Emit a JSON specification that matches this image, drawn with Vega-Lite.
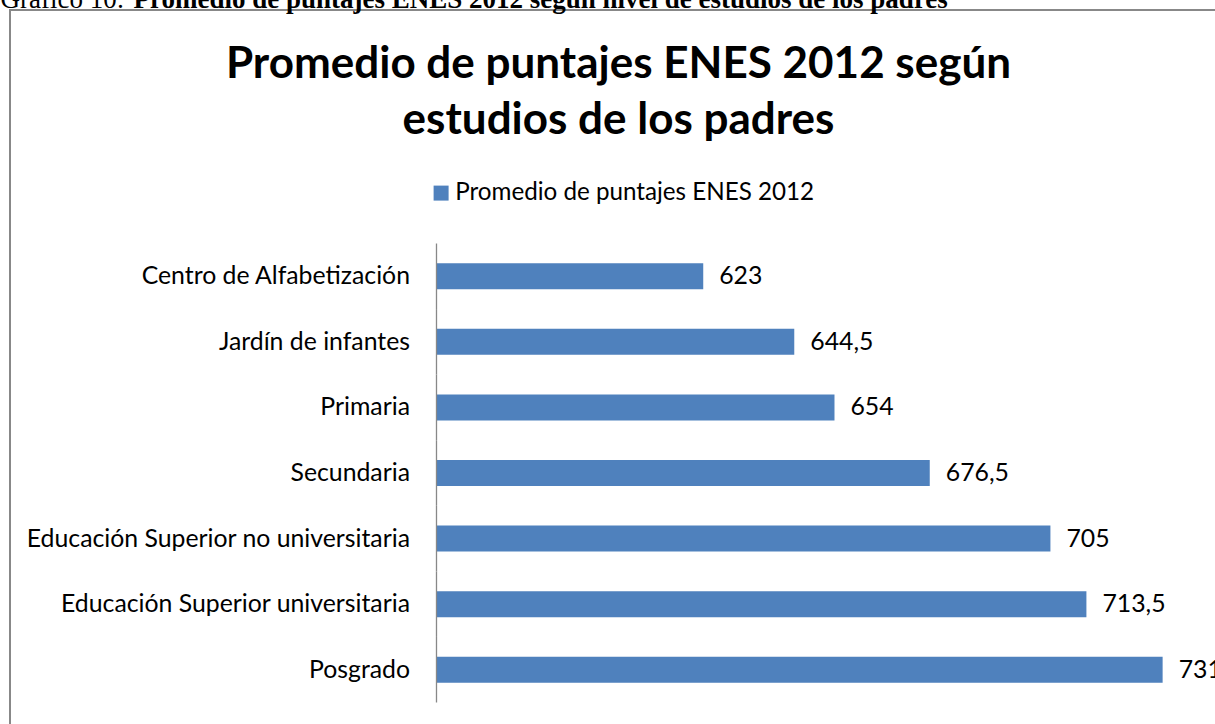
{
  "$schema": "https://vega.github.io/schema/vega-lite/v6.json",
  "autosize": {"type": "none"},
  "padding": {"left": 10, "top": 10, "right": 0, "bottom": 0},
  "width": 1205,
  "height": 714,
  "background": "white",
  "config": {"view": {"stroke": "#888888", "strokeWidth": 2, "strokeDash": [1205, 1919, 714]}},
  "resolve": {"axis": {"x": "independent", "y": "independent"}},
  "data": {
    "values": [
      {"nivel": "Centro de Alfabetización", "puntaje": 623, "etiqueta": "623", "serie": "Promedio de puntajes ENES 2012"},
      {"nivel": "Jardín de infantes", "puntaje": 644.5, "etiqueta": "644,5", "serie": "Promedio de puntajes ENES 2012"},
      {"nivel": "Primaria", "puntaje": 654, "etiqueta": "654", "serie": "Promedio de puntajes ENES 2012"},
      {"nivel": "Secundaria", "puntaje": 676.5, "etiqueta": "676,5", "serie": "Promedio de puntajes ENES 2012"},
      {"nivel": "Educación Superior no universitaria", "puntaje": 705, "etiqueta": "705", "serie": "Promedio de puntajes ENES 2012"},
      {"nivel": "Educación Superior universitaria", "puntaje": 713.5, "etiqueta": "713,5", "serie": "Promedio de puntajes ENES 2012"},
      {"nivel": "Posgrado", "puntaje": 731.5, "etiqueta": "731,5", "serie": "Promedio de puntajes ENES 2012"}
    ]
  },
  "layer": [
    {
      "mark": {"type": "bar", "color": "#4F81BD"},
      "encoding": {
        "y": {
          "field": "nivel", "type": "nominal", "sort": null,
          "scale": {"range": [233.5, 692.5], "paddingInner": 0.6035, "paddingOuter": 0.30175, "align": 0.5},
          "axis": {
            "orient": "left", "domain": false, "ticks": false, "labels": false, "grid": false,
            "title": ["Promedio de puntajes ENES 2012 según", "estudios de los padres"],
            "titleFont": "Lato", "titleFontSize": 44, "titleFontWeight": "bold", "titleColor": "black",
            "titleAngle": 0, "titleX": 608, "titleY": 67, "titleAlign": "center",
            "titleBaseline": "alphabetic", "titleLineHeight": 56, "titleLimit": 2000
          }
        },
        "x": {
          "field": "puntaje", "type": "quantitative",
          "scale": {"domain": [459.27, 743.87], "nice": false, "zero": false},
          "axis": {
            "orient": "top", "domain": false, "ticks": false, "labels": false, "grid": false,
            "title": "Promedio de puntajes ENES 2012 según nivel de estudios de los padres",
            "titleFont": "Liberation Serif", "titleFontSize": 27, "titleFontWeight": "bold", "titleColor": "black",
            "titleX": 123, "titleY": -3, "titleAlign": "left", "titleBaseline": "alphabetic", "titleLimit": 2000
          }
        },
        "x2": {"datum": 560},
        "color": {
          "field": "serie", "type": "nominal",
          "scale": {"range": ["#4F81BD"]},
          "legend": {
            "orient": "none", "legendX": 419, "legendY": 171, "direction": "horizontal",
            "title": null, "symbolType": "square", "symbolSize": 225, "symbolStrokeWidth": 0,
            "labelFont": "Lato", "labelFontSize": 24.2, "labelColor": "black", "labelOffset": 2,
            "labelLimit": 1000, "padding": 0
          }
        }
      }
    },
    {
      "mark": {"type": "tick", "orient": "vertical", "color": "#888888", "thickness": 1.3, "size": 65.57, "opacity": 1},
      "encoding": {
        "y": {"field": "nivel", "type": "nominal", "sort": null, "axis": null},
        "x": {
          "datum": 560,
          "axis": {
            "orient": "top", "domain": false, "ticks": false, "labels": false, "grid": false,
            "title": "Gráfico 10:", "titleFont": "Liberation Serif", "titleFontSize": 27,
            "titleFontWeight": "normal", "titleColor": "black",
            "titleX": -10, "titleY": -3, "titleAlign": "left", "titleBaseline": "alphabetic", "titleLimit": 2000
          }
        }
      }
    },
    {
      "mark": {"type": "text", "align": "right", "baseline": "middle", "dx": -26.5, "dy": 1, "font": "Lato", "fontSize": 24.8, "color": "black"},
      "encoding": {
        "y": {"field": "nivel", "type": "nominal", "sort": null, "axis": null},
        "x": {"datum": 560, "axis": null},
        "text": {"field": "nivel"}
      }
    },
    {
      "mark": {"type": "text", "align": "left", "baseline": "middle", "dx": 16, "dy": 1, "font": "Lato", "fontSize": 24.8, "color": "black"},
      "encoding": {
        "y": {"field": "nivel", "type": "nominal", "sort": null, "axis": null},
        "x": {"field": "puntaje", "type": "quantitative", "axis": null},
        "text": {"field": "etiqueta"}
      }
    }
  ]
}
